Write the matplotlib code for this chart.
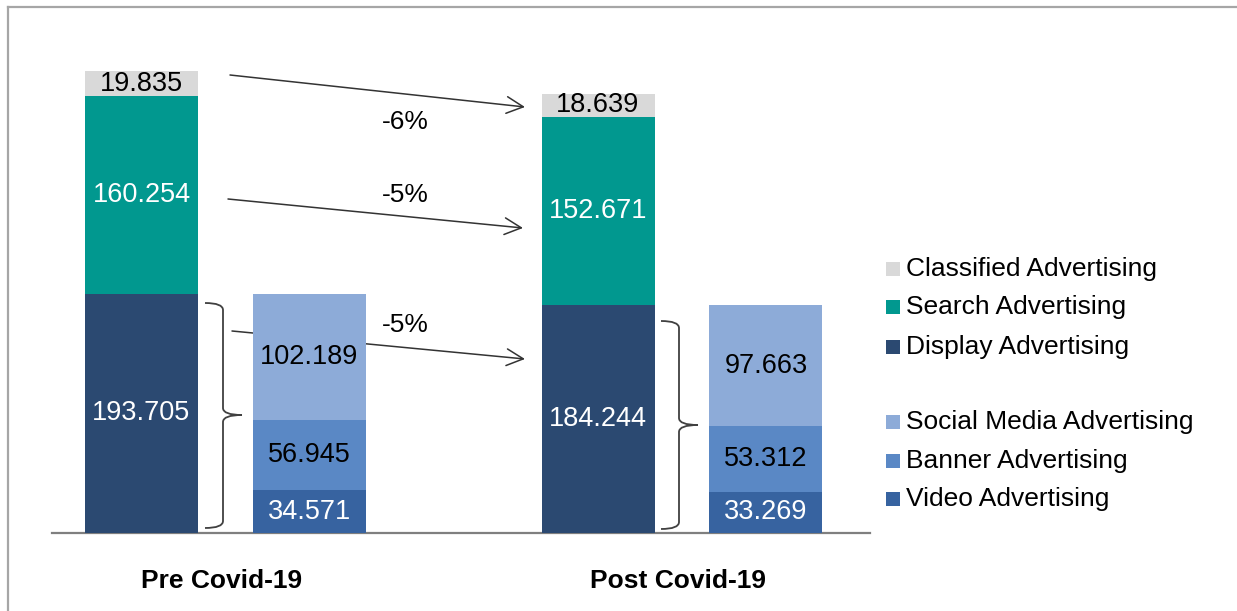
import matplotlib
matplotlib.use("Agg")
import matplotlib.pyplot as plt
from matplotlib.path import Path
from matplotlib.patches import PathPatch, Rectangle
from matplotlib.lines import Line2D
import numpy as np

plt.rcParams['font.family'] = ['Liberation Sans', 'DejaVu Sans']

# ---------------- data ----------------
periods = ["Pre Covid-19", "Post Covid-19"]
main_series = ["Display Advertising", "Search Advertising", "Classified Advertising"]
display_vals = [193.705, 184.244]
search_vals = [160.254, 152.671]
classified_vals = [19.835, 18.639]

sub_series = ["Video Advertising", "Banner Advertising", "Social Media Advertising"]
video_vals = [34.571, 33.269]
banner_vals = [56.945, 53.312]
social_vals = [102.189, 97.663]

change_labels = ["-6%", "-5%", "-5%"]

legend_top = ["Classified Advertising", "Search Advertising", "Display Advertising"]
legend_bottom = ["Social Media Advertising", "Banner Advertising", "Video Advertising"]

colors = {
    "Classified Advertising": "#D9D9D9",
    "Search Advertising": "#01988F",
    "Display Advertising": "#2B4971",
    "Social Media Advertising": "#8DABD8",
    "Banner Advertising": "#5A88C5",
    "Video Advertising": "#3763A0",
}
text_colors = {
    "Classified Advertising": "black",
    "Search Advertising": "white",
    "Display Advertising": "white",
    "Social Media Advertising": "black",
    "Banner Advertising": "black",
    "Video Advertising": "white",
}

W, H = 1237, 611
fig = plt.figure(figsize=(W / 100, H / 100), dpi=100)

def fx(x):
    return x / W

def fy(y):
    return 1 - y / H

def P(x, y):
    return (fx(x), fy(y))

# axes: baseline at y=533 px, from x=52 to 870 px
ax = fig.add_axes([fx(52), fy(533), (870 - 52) / W, (533 - 20) / H])
px_per_unit = 1.235
ax.set_ylim(0, (533 - 20) / px_per_unit)
grp = 456.5
ax.set_xlim(-(141.5 - 52) / grp, (870 - 141.5) / grp)

x = np.arange(len(periods))
bw = 113 / grp
sub_off = 168 / grp

FS = 19
FSV = 19.5

def stack(xpos, names, vals_list):
    bottom = np.zeros(len(xpos))
    for name, vals in zip(names, vals_list):
        vals = np.array(vals)
        ax.bar(xpos, vals, width=bw, bottom=bottom, color=colors[name], zorder=3, linewidth=0)
        for xi, b, v in zip(xpos, bottom, vals):
            ax.text(xi, b + v / 2, f"{v:.3f}", ha="center", va="center",
                    fontsize=FSV, color=text_colors[name], zorder=4)
        bottom = bottom + vals

stack(x, main_series, [display_vals, search_vals, classified_vals])
stack(x + sub_off, sub_series, [video_vals, banner_vals, social_vals])

for s in ["top", "right", "left"]:
    ax.spines[s].set_visible(False)
ax.spines["bottom"].set_color("#7F7F7F")
ax.spines["bottom"].set_linewidth(1.6)
ax.set_yticks([])
ax.set_xticks(x + 0.175)
ax.set_xticklabels(periods, fontsize=FS, fontweight="bold")
ax.tick_params(axis="x", length=0, pad=26)

# arrows (drawn beneath bars)
arrows = [((230, 75), (525, 107)), ((228, 199), (523, 228)), ((232, 331), (525, 359))]
label_pos = [(405, 122), (405, 195), (405, 325)]
for (s, e), lbl, lp in zip(arrows, change_labels, label_pos):
    ax.annotate("", xy=P(*e), xytext=P(*s), xycoords="figure fraction",
                textcoords="figure fraction",
                arrowprops=dict(arrowstyle="->,head_length=0.6,head_width=0.3",
                                color="#333333", lw=1.1, mutation_scale=20,
                                shrinkA=0, shrinkB=0),
                zorder=1, annotation_clip=False)
    fig.text(*P(*lp), lbl, ha="center", va="center", fontsize=FS, color="black")

# braces
def brace(xl, xv, xt, ytop, ymid, ybot, r=7):
    codes = [Path.MOVETO, Path.CURVE3, Path.CURVE3, Path.LINETO, Path.CURVE3, Path.CURVE3]
    upper = [P(xl, ytop), P(xv, ytop), P(xv, ytop + r),
             P(xv, ymid - r), P(xv, ymid), P(xt, ymid)]
    lower = [P(xt, ymid), P(xv, ymid), P(xv, ymid + r),
             P(xv, ybot - r), P(xv, ybot), P(xl, ybot)]
    for vv in (upper, lower):
        fig.patches.append(PathPatch(Path(vv, codes), transform=fig.transFigure,
                                     fill=False, edgecolor="#404040", lw=1.3))

brace(205, 223, 242, 303, 415, 528)
brace(661, 679, 698, 321, 425, 529)

# legend (manual)
leg_rows = [(legend_top[0], 269), (legend_top[1], 307), (legend_top[2], 347),
            (legend_bottom[0], 422), (legend_bottom[1], 461), (legend_bottom[2], 499)]
for name, yc in leg_rows:
    fig.patches.append(Rectangle(P(886, yc + 7), 14 / W, 14 / H, transform=fig.transFigure,
                                 facecolor=colors[name], edgecolor="none"))
    fig.text(*P(906, yc), name, ha="left", va="center", fontsize=FS, color="black")

# outer frame (top and left)
fig.add_artist(Line2D([fx(8), 1], [fy(7), fy(7)], transform=fig.transFigure, color="#A6A6A6", lw=1.6))
fig.add_artist(Line2D([fx(8), fx(8)], [fy(7), 0], transform=fig.transFigure, color="#A6A6A6", lw=1.6))

fig.savefig("out.png", dpi=100)
